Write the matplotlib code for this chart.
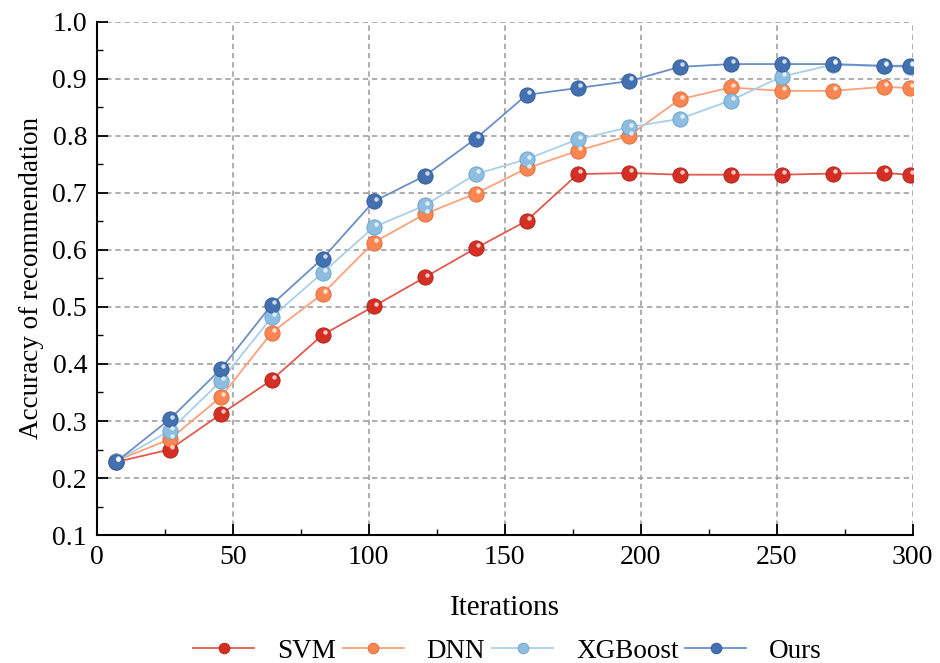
import matplotlib
matplotlib.use("Agg")
import matplotlib.pyplot as plt
from matplotlib.ticker import MultipleLocator
from matplotlib import transforms

plt.rcParams['font.family'] = ['Liberation Serif', 'DejaVu Serif']

iterations = [7, 26.8, 45.6, 64.3, 83, 101.8, 120.6, 139.3, 158, 176.8, 195.6, 214.3, 233, 251.8, 270.6, 289.3, 298.9]
svm = [0.228, 0.250, 0.312, 0.372, 0.451, 0.501, 0.552, 0.603, 0.651, 0.733, 0.735, 0.732, 0.732, 0.732, 0.734, 0.735, 0.732]
dnn = [0.230, 0.268, 0.342, 0.455, 0.523, 0.613, 0.663, 0.699, 0.743, 0.774, 0.800, 0.864, 0.885, 0.879, 0.879, 0.886, 0.884]
xgb = [0.229, 0.283, 0.370, 0.482, 0.560, 0.640, 0.678, 0.733, 0.759, 0.794, 0.815, 0.830, 0.862, 0.904, 0.925, 0.922, 0.921]
ours = [0.228, 0.303, 0.391, 0.504, 0.585, 0.685, 0.730, 0.795, 0.872, 0.884, 0.896, 0.921, 0.926, 0.926, 0.926, 0.923, 0.923]

series_names = ["SVM", "DNN", "XGBoost", "Ours"]
series_values = [svm, dnn, xgb, ours]
marker_colors = ["#d42f22", "#fb8651", "#8dbde0", "#4270b0"]
line_colors = ["#e05a50", "#fca27a", "#a9cfea", "#6a8fc6"]
edge_colors = ["#a8231a", "#d9693a", "#6a9fc8", "#2f5a96"]

fig = plt.figure(figsize=(9.4, 6.63), dpi=100)
ax = fig.add_axes([0.103, 0.193, 0.868, 0.774])

for name, vals, mc, lc, ec in zip(series_names, series_values, marker_colors, line_colors, edge_colors):
    ax.plot(iterations, vals, color=lc, lw=1.3, marker='o', markersize=11,
            markerfacecolor=mc, markeredgecolor=ec, markeredgewidth=0.6,
            label=name, zorder=3)
    hl = transforms.offset_copy(ax.transData, fig=fig, x=1.5, y=2.0, units='points')
    ax.plot(iterations, vals, linestyle='none', marker='o', markersize=3.2,
            markerfacecolor='white', markeredgecolor='none', alpha=0.75,
            transform=hl, zorder=4)

ax.set_xlim(0, 300)
ax.set_ylim(0.1, 1.0)
ax.xaxis.set_major_locator(MultipleLocator(50))
ax.xaxis.set_minor_locator(MultipleLocator(25))
ax.yaxis.set_major_locator(MultipleLocator(0.1))
ax.yaxis.set_minor_locator(MultipleLocator(0.05))
ax.yaxis.set_major_formatter(plt.FuncFormatter(lambda v, p: f"{v:.1f}"))

ax.grid(True, which='major', linestyle=(0, (3.5, 2.5)), color='#999999', lw=1.1)
ax.set_axisbelow(True)
for s in ['top', 'right']:
    ax.spines[s].set_visible(False)
for s in ['left', 'bottom']:
    ax.spines[s].set_linewidth(1.5)

ax.tick_params(which='major', direction='in', length=8, width=1.3, labelsize=20, pad=7)
ax.tick_params(which='minor', direction='in', length=4, width=1.0)

ax.set_xlabel("Iterations", fontsize=21, labelpad=18)
ax.set_ylabel("Accuracy of recommendation", fontsize=19.5, labelpad=6)

leg = fig.legend(loc='lower center', bbox_to_anchor=(0.54, -0.038), ncol=4, frameon=False,
                 fontsize=19.5, handlelength=2.25, columnspacing=0.25, handletextpad=0.85,
                 markerscale=0.7)

fig.savefig("out.png", dpi=100)
